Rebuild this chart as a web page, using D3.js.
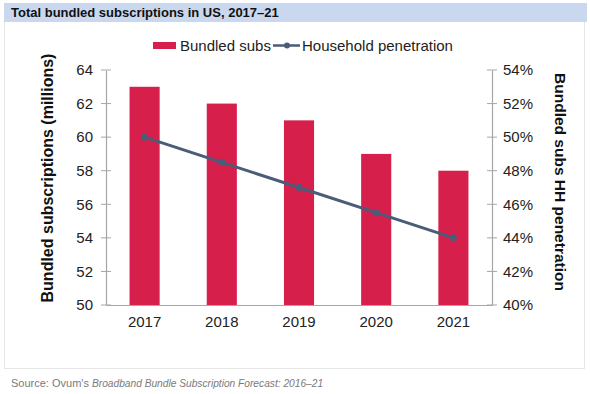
<!DOCTYPE html>
<html><head><meta charset="utf-8">
<script src="https://cdn.jsdelivr.net/npm/d3@7"></script>
<style>
html,body{margin:0;padding:0;background:#fff;}
text{font-family:"Liberation Sans",Arial,sans-serif;}
</style></head>
<body><svg id="c" width="590" height="394"></svg>
<script>
const years = ["2017","2018","2019","2020","2021"];
const bundledSubs = [63, 62, 61, 59, 58];
const penetration = [50, 48.5, 47, 45.5, 44];
const leftTicks = [50,52,54,56,58,60,62,64];
const rightTicks = [40,42,44,46,48,50,52,54];

const svg = d3.select("#c");
// frame
svg.append("rect").attr("x",4.5).attr("y",21.5).attr("width",580).attr("height",347)
  .attr("fill","#fff").attr("stroke","#e6e6e6");
svg.append("rect").attr("x",4).attr("y",3).attr("width",583).attr("height",19).attr("fill","#c9d8ee");
svg.append("text").attr("x",11).attr("y",17).attr("font-size",13).attr("font-weight","bold")
  .attr("fill","#111").text("Total bundled subscriptions in US, 2017–21");

const L=106, R=492, T=70, B=305;
const x = d3.scaleBand().domain(years).range([L,R]).paddingInner(0.61).paddingOuter(0.305);
const yL = d3.scaleLinear().domain([50,64]).range([B,T]);
const yR = d3.scaleLinear().domain([40,54]).range([B,T]);

const g = svg.append("g");
g.selectAll("rect.bar").data(years).join("rect").attr("class","bar")
  .attr("x",d=>x(d)).attr("width",x.bandwidth())
  .attr("y",(d,i)=>yL(bundledSubs[i])).attr("height",(d,i)=>B-yL(bundledSubs[i]))
  .attr("fill","#d71f4b");

// axes
const axL = svg.append("g").attr("transform",`translate(${L},0)`)
  .call(d3.axisLeft(yL).tickValues(leftTicks).tickSize(0).tickPadding(13));
axL.selectAll("line.t").data(leftTicks).join("line").attr("class","t")
  .attr("x1",-5).attr("x2",5).attr("y1",d=>yL(d)).attr("y2",d=>yL(d)).attr("stroke","#a6a6a6");
const axR = svg.append("g").attr("transform",`translate(${R},0)`)
  .call(d3.axisRight(yR).tickValues(rightTicks).tickSize(0).tickPadding(11).tickFormat(d=>d+"%"));
axR.selectAll("line.t").data(rightTicks).join("line").attr("class","t")
  .attr("x1",-5).attr("x2",5).attr("y1",d=>yR(d)).attr("y2",d=>yR(d)).attr("stroke","#a6a6a6");
const axB = svg.append("g").attr("transform",`translate(0,${B})`)
  .call(d3.axisBottom(x).tickSize(0).tickPadding(11));
[axL,axR,axB].forEach(a=>{
  a.select(".domain").attr("stroke","#a6a6a6").attr("stroke-width",1.2);
  a.selectAll("text").attr("font-size",15).attr("fill","#222").attr("font-family","'Liberation Sans',Arial,sans-serif");
});

// line
const line = d3.line().x((d,i)=>x(years[i])+x.bandwidth()/2).y(d=>yR(d));
svg.append("path").datum(penetration).attr("d",line).attr("fill","none")
  .attr("stroke","#4b5b78").attr("stroke-width",3);
svg.selectAll("circle.pt").data(penetration).join("circle").attr("class","pt")
  .attr("cx",(d,i)=>x(years[i])+x.bandwidth()/2).attr("cy",d=>yR(d)).attr("r",3.5).attr("fill","#4b5b78");

// axis titles
svg.append("text").attr("transform","translate(53,178) rotate(-90)").attr("text-anchor","middle")
  .attr("font-size",16).attr("font-weight","bold").attr("fill","#111").text("Bundled subscriptions (millions)");
svg.append("text").attr("transform","translate(555,182) rotate(90)").attr("text-anchor","middle")
  .attr("font-size",15.5).attr("font-weight","bold").attr("fill","#111").text("Bundled subs HH penetration");

// legend
svg.append("rect").attr("x",153).attr("y",42).attr("width",23).attr("height",7).attr("fill","#d71f4b");
svg.append("text").attr("x",180).attr("y",51).attr("font-size",15).attr("fill","#222").text("Bundled subs");
svg.append("line").attr("x1",273).attr("x2",300).attr("y1",45.5).attr("y2",45.5).attr("stroke","#4b5b78").attr("stroke-width",2.5);
svg.append("circle").attr("cx",287).attr("cy",45.5).attr("r",3).attr("fill","#4b5b78");
svg.append("text").attr("x",302).attr("y",51).attr("font-size",15).attr("fill","#222").text("Household penetration");

// source
const src = svg.append("text").attr("x",11).attr("y",387).attr("fill","#7a7a7a");
src.append("tspan").attr("font-size",11).text("Source: Ovum's ");
src.append("tspan").attr("font-size",10.2).attr("font-style","italic").text("Broadband Bundle Subscription Forecast: 2016–21");
</script></body></html>
